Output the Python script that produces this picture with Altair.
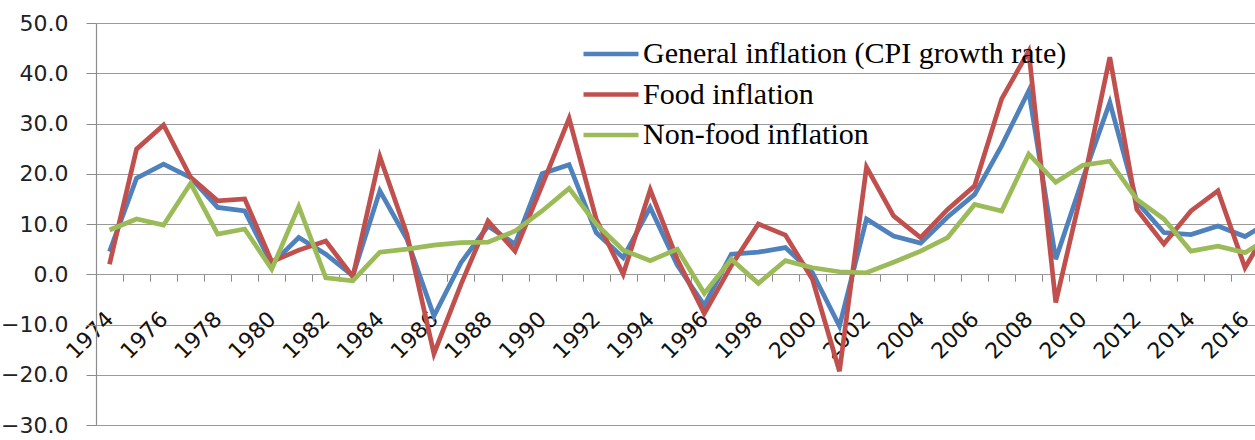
import altair as alt
import pandas as pd

years = list(range(1974, 2018))

general = [4.5, 19.1, 21.9, 19.2, 13.3, 12.6, 2.0, 7.3, 4.0, -0.3,
           16.6, 7.0, -8.3, 2.3, 9.6, 6.0, 20.0, 21.8, 8.3, 3.3,
           13.3, 1.8, -6.2, 4.0, 4.4, 5.3, 0.3, -10.3, 11.0, 7.6,
           6.2, 11.4, 15.9, 25.6, 36.5, 3.0, 19.0, 34.2, 14.4, 8.3,
           7.9, 9.6, 7.5, 10.8]

food = [2.0, 24.9, 29.7, 19.3, 14.6, 15.0, 2.5, 4.8, 6.6, -0.5,
        23.4, 8.0, -15.8, -2.0, 10.6, 4.6, 17.7, 31.0, 11.0, 0.0,
        16.8, 3.0, -7.8, 1.7, 10.0, 7.8, -1.0, -19.3, 21.3, 11.6,
        7.3, 12.9, 17.6, 34.9, 44.4, -5.6, 17.5, 43.2, 12.9, 6.0,
        12.6, 16.6, 1.3, 10.4]

nonfood = [8.8, 11.0, 9.8, 18.1, 8.0, 9.0, 1.0, 13.5, -0.7, -1.3,
           4.4, 5.0, 5.8, 6.3, 6.4, 8.6, 12.6, 17.1, 10.0, 4.8,
           2.7, 5.0, -3.8, 3.0, -1.8, 2.7, 1.3, 0.5, 0.3, 2.4,
           4.6, 7.3, 13.9, 12.6, 23.9, 18.3, 21.7, 22.5, 14.9, 11.0,
           4.6, 5.6, 4.3, 7.6]

series_names = ["General inflation (CPI growth rate)", "Food inflation", "Non-food inflation"]
series_colors = ["#4F81BD", "#C0504D", "#9BBB59"]

y_ticks = [-30, -20, -10, 0, 10, 20, 30, 40, 50]
label_years = list(range(1974, 2017, 2))
boundaries = [y + 0.5 for y in range(1974, 2016)]

rows = []
for name, vals in zip(series_names, [general, food, nonfood]):
    for yr, v in zip(years, vals):
        rows.append({"year": yr, "value": v, "series": name})
df = pd.DataFrame(rows)

W = 1159
H = 402
x_offset = -H * 30 / 80

chart = alt.Chart(df).mark_line(strokeWidth=4.7, clip=True).encode(
    x=alt.X("year:Q",
            scale=alt.Scale(domain=[1973.5, 2016.37], nice=False, zero=False),
            axis=alt.Axis(values=label_years + boundaries,
                          labelExpr="datum.value % 2 == 0 ? '' + datum.value : ''",
                          title=None, grid=False, domain=False,
                          offset=x_offset,
                          tickSize=7, tickColor="#8c8c8c", tickWidth=1,
                          tickOpacity=alt.condition("datum.value % 1 == 0", alt.value(0), alt.value(1)),
                          labelAngle=-45, labelAlign="right", labelBaseline="middle",
                          labelPadding=34, labelFont="DejaVu Sans", labelFontSize=22,
                          labelColor="#111111", labelOverlap=False, labelFlush=False,
                          labelBound=False)),
    y=alt.Y("value:Q",
            scale=alt.Scale(domain=[-30, 50], nice=False),
            axis=alt.Axis(values=y_ticks, format=".1f", title=None,
                          grid=True, gridColor="#9a9a9a", gridWidth=1.2,
                          domain=True, domainColor="#8c8c8c", domainWidth=1.2,
                          tickSize=10, tickColor="#8c8c8c",
                          labelPadding=18, labelFont="DejaVu Sans", labelFontSize=22,
                          labelColor="#222222")),
    color=alt.Color("series:N",
                    scale=alt.Scale(domain=series_names, range=series_colors),
                    legend=alt.Legend(orient="none", legendX=494, legendY=10,
                                      title=None, padding=0,
                                      symbolType="M-1.5,0H1.5", symbolSize=1344,
                                      symbolStrokeWidth=4.7, labelOffset=11,
                                      labelFont="Liberation Serif", labelFontSize=30,
                                      labelColor="#000000", labelLimit=1000,
                                      rowPadding=4.5)),
    order=alt.Order("year:Q"),
).properties(
    width=W, height=H,
    autosize=alt.AutoSizeParams(type="none"),
    padding={"left": 96, "top": 23, "right": 0, "bottom": 15},
).configure_view(stroke=None).configure(background="white")

chart.save("out.html", embed_options={"renderer": "svg", "actions": False})
